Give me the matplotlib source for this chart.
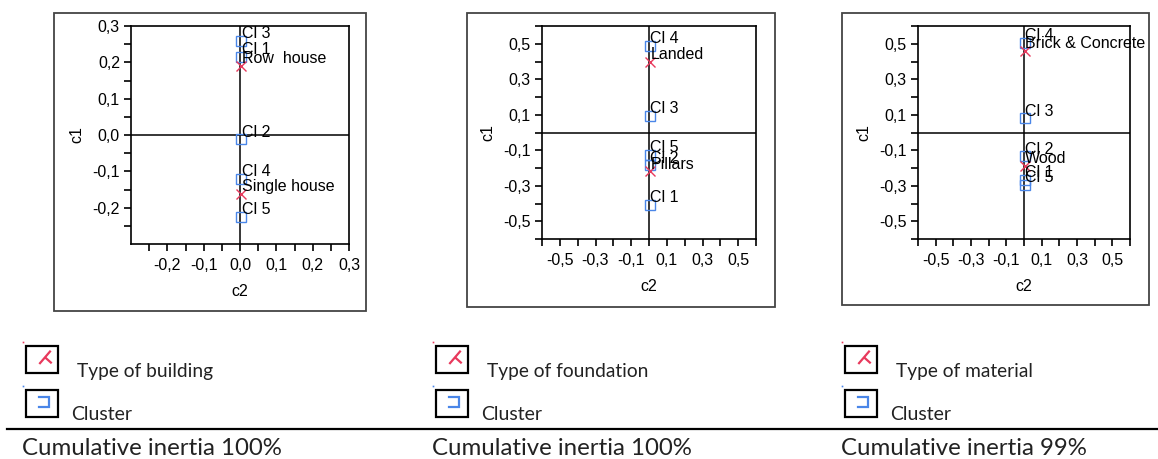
import matplotlib
matplotlib.use("Agg")
import matplotlib.pyplot as plt
import numpy as np
from matplotlib.patches import Rectangle

W, H = 1158, 459

# ---------------- data ----------------
p1_cl_names = ["Cl 3", "Cl 1", "Cl 2", "Cl 4", "Cl 5"]
p1_cl_c2 = [0.003, 0.003, 0.003, 0.003, 0.003]
p1_cl_c1 = [0.258, 0.216, -0.012, -0.121, -0.225]
p1_mod_names = ["Row  house", "Single house"]
p1_mod_c2 = [0.003, 0.003]
p1_mod_c1 = [0.190, -0.162]

p2_cl_names = ["Cl 4", "Cl 3", "Cl 5", "Cl 2", "Cl 1"]
p2_cl_c2 = [0.003, 0.003, 0.003, 0.003, 0.003]
p2_cl_c1 = [0.490, 0.093, -0.124, -0.185, -0.407]
p2_mod_names = ["Landed", "Pillars"]
p2_mod_c2 = [0.005, 0.005]
p2_mod_c1 = [0.400, -0.219]

p3_cl_names = ["Cl 4", "Cl 3", "Cl 2", "Cl 1", "Cl 5"]
p3_cl_c2 = [0.003, 0.003, 0.003, 0.003, 0.003]
p3_cl_c1 = [0.506, 0.080, -0.134, -0.265, -0.297]
p3_mod_names = ["Brick & Concrete", "Wood"]
p3_mod_c2 = [0.003, 0.003]
p3_mod_c1 = [0.459, -0.190]

legend_titles = ["Type of building", "Type of foundation", "Type of material"]
inertia_texts = ["Cumulative inertia 100%", "Cumulative inertia 100%", "Cumulative inertia 99%"]

RED = "#e8395c"
BLUE = "#4a86e8"

fig = plt.figure(figsize=(W / 100, H / 100), dpi=100)

# overlay axes in pixel coordinates
ov = fig.add_axes([0, 0, 1, 1])
ov.set_xlim(0, W)
ov.set_ylim(H, 0)
ov.axis("off")

# outer frames
frames = [(54, 13, 366, 311), (467, 13, 775, 307), (842, 13, 1149, 305)]
for (x0, y0, x1, y1) in frames:
    ov.add_patch(Rectangle((x0, y0), x1 - x0, y1 - y0, fill=False,
                           edgecolor="#444444", lw=1.3))

# legend blocks
leg_x = [26, 436, 845]
for i, bx in enumerate(leg_x):
    # building icon
    ov.add_patch(Rectangle((bx, 345.5), 32, 27, fill=False, edgecolor="black", lw=1.6))
    ov.plot([bx + 13.3, bx + 24.7], [364, 350.7], color=RED, lw=1.6, solid_capstyle="butt")
    ov.plot([bx + 19, bx + 25.7], [357.3, 363.3], color=RED, lw=1.6, solid_capstyle="butt")
    ov.plot([bx - 3], [342], marker="s", ms=1.2, color=RED, mew=0)
    ov.text(bx + 51, 376.5, legend_titles[i], fontsize=13.8, family="Lato",
            color="#222222", va="baseline", ha="left")
    # cluster icon
    ov.add_patch(Rectangle((bx, 389.5), 32, 27, fill=False, edgecolor="black", lw=1.6))
    ov.plot([bx + 13.3, bx + 23.3, bx + 23.3, bx + 13.3], [397.3, 397.3, 407.3, 407.3],
            color=BLUE, lw=1.6, solid_joinstyle="miter")
    ov.plot([bx - 3], [386], marker="s", ms=1.2, color=BLUE, mew=0)
    ov.text(bx + 45, 420, "Cluster", fontsize=14, family="Lato",
            color="#222222", va="baseline", ha="left")
    ov.text(bx - 4, 455, inertia_texts[i], fontsize=17.3, family="Lato",
            color="#222222", va="baseline", ha="left")

ov.plot([7, W], [429, 429], color="black", lw=1.6)


def fmt(v):
    s = f"{v:.1f}".replace(".", ",")
    if s == "-0,0":
        s = "0,0"
    return s


def panel(rect_px, lim, ticks, labeled, cl_names, cl_c2, cl_c1, mod_names, mod_c2, mod_c1):
    l, t, r, b = rect_px
    ax = fig.add_axes([l / W, (H - b) / H, (r - l) / W, (b - t) / H])
    ax.set_xlim(-lim, lim)
    ax.set_ylim(-lim, lim)
    for sp in ax.spines.values():
        sp.set_linewidth(1.2)
        sp.set_color("black")
    ax.axhline(0, color="black", lw=1.1, zorder=1)
    ax.axvline(0, color="black", lw=1.1, zorder=1)
    labs = [fmt(v) if any(abs(v - u) < 1e-9 for u in labeled) else "" for v in ticks]
    ax.set_xticks(ticks)
    ax.set_xticklabels(labs)
    ax.set_yticks(ticks)
    ax.set_yticklabels(labs)
    ax.tick_params(direction="out", length=5, width=1.2, labelsize=11.5, colors="black")
    ax.tick_params(axis="x", pad=5)
    ax.tick_params(axis="y", pad=3)
    for lab in ax.get_xticklabels() + ax.get_yticklabels():
        lab.set_family("Liberation Sans")
    ax.set_xlabel("c2", fontsize=11.5, family="Liberation Sans", labelpad=8)
    ax.set_ylabel("c1", fontsize=11.5, family="Liberation Sans", labelpad=6)
    ax.plot(cl_c2, cl_c1, linestyle="none", marker="s", ms=6.5, mfc="none",
            mec=BLUE, mew=1.0, zorder=3)
    ax.plot(mod_c2, mod_c1, linestyle="none", marker="x", ms=7.5,
            mec=RED, mew=1.0, zorder=3)
    for n, x, y in zip(cl_names, cl_c2, cl_c1):
        ax.annotate(n, (x, y), xytext=(0.5, 2), textcoords="offset points",
                    fontsize=11.5, family="Liberation Sans", ha="left", va="baseline", zorder=4)
    for n, x, y in zip(mod_names, mod_c2, mod_c1):
        ax.annotate(n, (x, y), xytext=(0.5, 2), textcoords="offset points",
                    fontsize=11.5, family="Liberation Sans", ha="left", va="baseline", zorder=4)
    return ax


t1 = np.round(np.arange(-0.25, 0.3001, 0.05), 2)
panel((131, 26, 349, 244), 0.3, t1, [-0.2, -0.1, 0.0, 0.1, 0.2, 0.3],
      p1_cl_names, p1_cl_c2, p1_cl_c1, p1_mod_names, p1_mod_c2, p1_mod_c1)

t2 = np.round(np.arange(-0.6, 0.6001, 0.1), 2)
odd = [-0.5, -0.3, -0.1, 0.1, 0.3, 0.5]
panel((542, 26, 756, 239), 0.6, t2, odd,
      p2_cl_names, p2_cl_c2, p2_cl_c1, p2_mod_names, p2_mod_c2, p2_mod_c1)
panel((918, 26, 1130, 239), 0.6, t2, odd,
      p3_cl_names, p3_cl_c2, p3_cl_c1, p3_mod_names, p3_mod_c2, p3_mod_c1)

fig.savefig("out.png", dpi=100)
